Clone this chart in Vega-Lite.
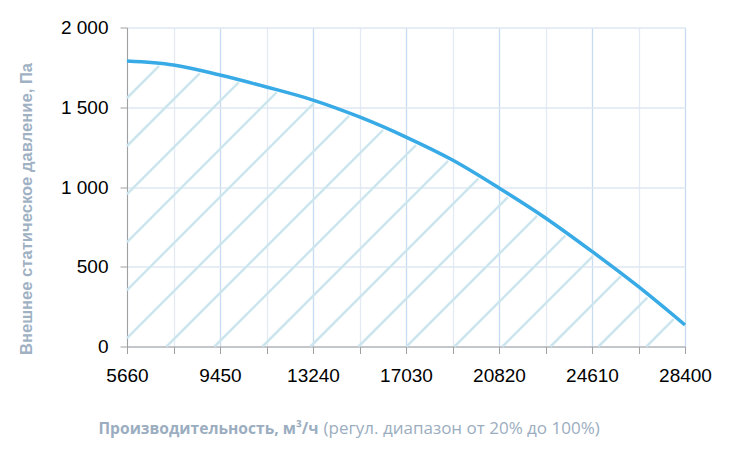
{
  "$schema": "https://vega.github.io/schema/vega-lite/v6.json",
  "width": 558,
  "height": 319,
  "autosize": "none",
  "padding": {"left": 127, "top": 27.5, "right": 45, "bottom": 109.5},
  "background": "white",
  "datasets": {
    "curve": [
      {"flow": 5660, "pressure": 1790},
      {"flow": 7555, "pressure": 1765},
      {"flow": 9450, "pressure": 1702},
      {"flow": 11345, "pressure": 1627},
      {"flow": 13240, "pressure": 1545},
      {"flow": 15135, "pressure": 1439},
      {"flow": 17030, "pressure": 1313},
      {"flow": 18925, "pressure": 1169},
      {"flow": 20820, "pressure": 994},
      {"flow": 22715, "pressure": 806},
      {"flow": 24610, "pressure": 596},
      {"flow": 26505, "pressure": 375},
      {"flow": 28400, "pressure": 135}
    ],
    "hatch": [
      {"flow": 5660, "pressure": 1558, "flow2": 6968, "pressure2": 1759},
      {"flow": 5660, "pressure": 1257, "flow2": 8631, "pressure2": 1714},
      {"flow": 5660, "pressure": 956, "flow2": 10212, "pressure2": 1656},
      {"flow": 5660, "pressure": 655, "flow2": 11757, "pressure2": 1593},
      {"flow": 5660, "pressure": 354, "flow2": 13277, "pressure2": 1526},
      {"flow": 5660, "pressure": 53, "flow2": 14711, "pressure2": 1446},
      {"flow": 7270, "pressure": 0, "flow2": 16093, "pressure2": 1357},
      {"flow": 9226, "pressure": 0, "flow2": 17438, "pressure2": 1263},
      {"flow": 11182, "pressure": 0, "flow2": 18750, "pressure2": 1164},
      {"flow": 13138, "pressure": 0, "flow2": 19977, "pressure2": 1052},
      {"flow": 15094, "pressure": 0, "flow2": 21183, "pressure2": 937},
      {"flow": 17050, "pressure": 0, "flow2": 22373, "pressure2": 819},
      {"flow": 19007, "pressure": 0, "flow2": 23522, "pressure2": 695},
      {"flow": 20963, "pressure": 0, "flow2": 24655, "pressure2": 568},
      {"flow": 22919, "pressure": 0, "flow2": 25788, "pressure2": 441},
      {"flow": 24875, "pressure": 0, "flow2": 26864, "pressure2": 306},
      {"flow": 26831, "pressure": 0, "flow2": 27940, "pressure2": 171}
    ]
  },
  "layer": [
    {
      "data": {"name": "hatch"},
      "mark": {"type": "rule", "color": "#cde6ee", "strokeWidth": 2.5},
      "encoding": {
        "x": {
          "field": "flow",
          "type": "quantitative",
          "scale": {"domain": [5660, 28400], "nice": false, "zero": false},
          "axis": {
            "orient": "bottom",
            "values": [5660, 7555, 9450, 11345, 13240, 15135, 17030, 18925, 20820, 22715, 24610, 26505, 28400],
            "format": "d",
            "labelExpr": "(datum.value - 5660) % 3790 === 0 ? datum.label : ''",
            "labelFont": "Liberation Sans, Arial, sans-serif",
            "labelFontSize": 19,
            "labelColor": "#000000",
            "labelPadding": 13,
            "labelFlush": false,
            "labelOverlap": false,
            "domainColor": "#a0a0a0",
            "tickColor": "#a0a0a0",
            "tickSize": 7,
            "grid": true,
            "gridColor": {"condition": {"test": "(datum.value - 5660) % 3790 === 0", "value": "#c8dcf1"}, "value": "#e3eaf3"},
            "gridWidth": 1.3,
            "title": "Производительность, м³/ч",
            "titleFont": "Open Sans",
            "titleFontWeight": "bold",
            "titleFontSize": 15.6,
            "titleColor": "#9badc0",
            "titleAlign": "left",
            "titleBaseline": "alphabetic",
            "titleX": -29,
            "titleY": 86.5
          }
        },
        "y": {
          "field": "pressure",
          "type": "quantitative",
          "scale": {"domain": [0, 2000], "nice": false},
          "axis": {
            "values": [0, 500, 1000, 1500, 2000],
            "labelExpr": "replace(format(datum.value, ','), ',', ' ')",
            "labelFont": "Liberation Sans, Arial, sans-serif",
            "labelFontSize": 19,
            "labelColor": "#000000",
            "labelPadding": 12,
            "domainColor": "#a0a0a0",
            "tickColor": "#a0a0a0",
            "tickSize": 7,
            "grid": true,
            "gridColor": "#dfe7f1",
            "gridWidth": 1.3,
            "title": "Внешнее статическое давление, Па",
            "titleFont": "Liberation Sans, Arial, sans-serif",
            "titleFontWeight": "bold",
            "titleFontSize": 16.6,
            "titleColor": "#a0b1c3",
            "titleAngle": -90,
            "titleAlign": "center",
            "titleBaseline": "middle",
            "titleX": -101,
            "titleY": 181
          }
        },
        "x2": {"field": "flow2"},
        "y2": {"field": "pressure2"}
      }
    },
    {
      "data": {"name": "curve"},
      "mark": {"type": "line", "color": "#38abe6", "strokeWidth": 3.5, "interpolate": "monotone"},
      "encoding": {
        "x": {
          "field": "flow",
          "type": "quantitative",
          "axis": {
            "orient": "bottom",
            "labels": false,
            "ticks": false,
            "domain": false,
            "grid": false,
            "title": "(регул. диапазон от 20% до 100%)",
            "titleFont": "Open Sans",
            "titleFontWeight": "normal",
            "titleFontSize": 17,
            "titleColor": "#9badc0",
            "titleAlign": "left",
            "titleBaseline": "alphabetic",
            "titleX": 196,
            "titleY": 86.5
          }
        },
        "y": {"field": "pressure", "type": "quantitative"}
      }
    }
  ],
  "resolve": {"axis": {"x": "independent"}},
  "config": {"view": {"stroke": null}}
}
